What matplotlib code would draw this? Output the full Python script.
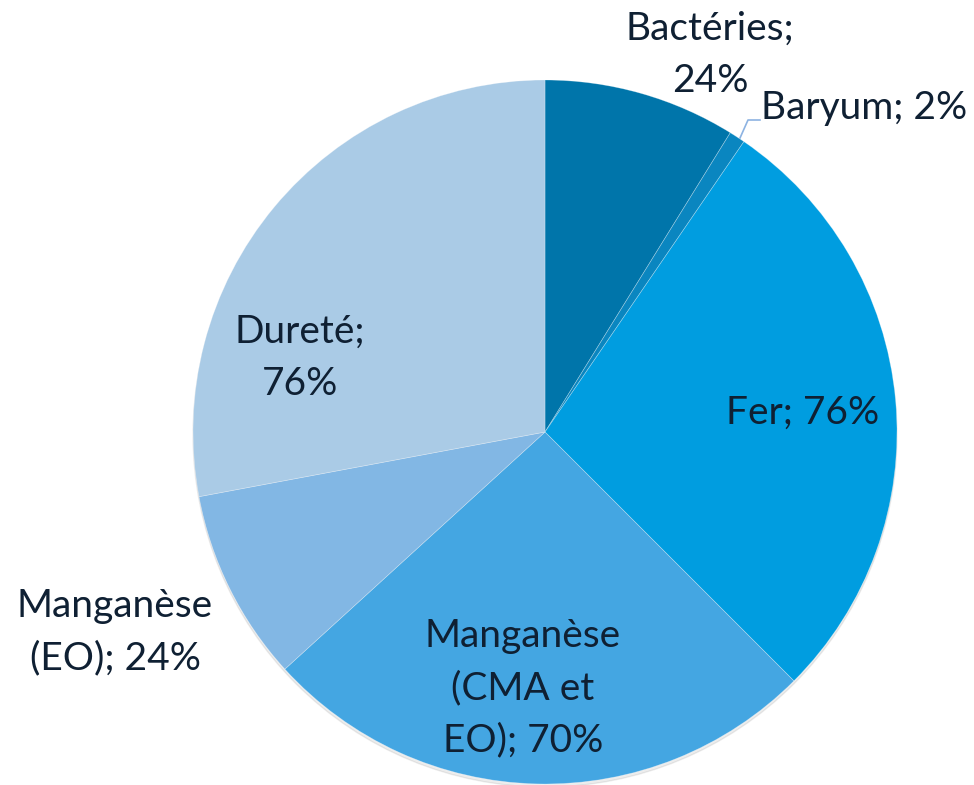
import matplotlib.pyplot as plt

categories = ['Bactéries', 'Baryum', 'Fer', 'Manganèse (CMA et EO)', 'Manganèse (EO)', 'Dureté']
values = [24, 2, 76, 70, 24, 76]
label_texts = ['Bactéries;\n24%', 'Baryum; 2%', 'Fer; 76%',
               'Manganèse\n(CMA et\nEO); 70%', 'Manganèse\n(EO); 24%', 'Dureté;\n76%']
colors = ['#0075AA', '#0A86C0', '#009DE0', '#44A6E2', '#82B7E4', '#AACBE6']

plt.rcParams['font.family'] = ['Lato', 'DejaVu Sans']

fig = plt.figure(figsize=(9.74, 7.85), dpi=100)
ax = fig.add_axes([0, 0, 1, 1])

cx, cy, r = 545, 785 - 432, 352

# soft shadow under the pie
shadow = plt.Circle((cx, cy - 3), r, color='#000000', alpha=0.07, zorder=0)
ax.add_patch(shadow)

ax.pie(values, colors=colors, startangle=90, counterclock=False,
       center=(cx, cy), radius=r, frame=True,
       wedgeprops=dict(edgecolor=(1, 1, 1, 0.35), linewidth=0.5))
ax.set_xlim(0, 974)
ax.set_ylim(0, 785)
ax.set_aspect('equal')
ax.axis('off')

# label positions (pixel coords from top-left)
label_pos = [(710, 55), (864, 108), (803, 413), (523, 688), (115, 632), (300, 358)]
tc = '#0F2033'
for txt, (x, y) in zip(label_texts, label_pos):
    ax.text(x, 785 - y, txt, ha='center', va='center', fontsize=28,
            color=tc, linespacing=1.55)

# leader line for Baryum
ax.plot([740, 748, 760], [785 - 138, 785 - 120, 785 - 120], color='#8DB3E2', lw=1.2)

fig.savefig('out.png', dpi=100)
